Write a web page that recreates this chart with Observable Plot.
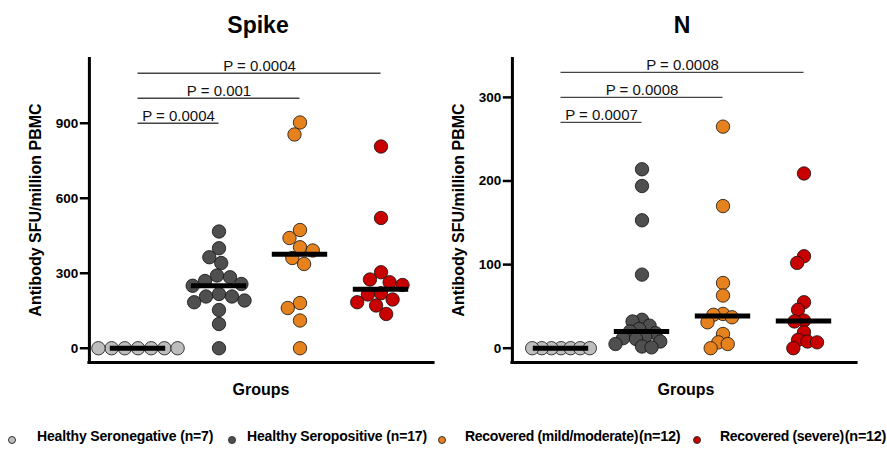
<!DOCTYPE html>
<html>
<head>
<meta charset="utf-8">
<script src="https://cdn.jsdelivr.net/npm/d3@7"></script>
<script src="https://cdn.jsdelivr.net/npm/@observablehq/plot@0.6"></script>
<style>
  body { margin: 0; background: #fff; font-family: "Liberation Sans", Arial, sans-serif; color: #000; }
  #page { position: relative; width: 887px; height: 449px; overflow: hidden; }
  .panel { position: absolute; top: 0; }
  .title { position: absolute; top: 13.5px; width: 400px; text-align: center; font-weight: bold; font-size: 23px; line-height: 23px; }
  .xlab { position: absolute; top: 381.5px; width: 300px; text-align: center; font-weight: bold; font-size: 16px; line-height: 16px; }
  .leg { position: absolute; top: 429.4px; font-weight: bold; font-size: 14px; line-height: 14px; letter-spacing: -0.15px; white-space: nowrap; }
  .leg.tight { letter-spacing: -0.3px; }
  .leg .n { font-size: 14.5px; margin-left: 1px; }
  .sw { position: absolute; top: 435.7px; width: 8px; height: 8px; border-radius: 50%; border: 0.8px solid #333; box-sizing: border-box; }
</style>
</head>
<body>
<div id="page">
  <div class="title" style="left:58px">Spike</div>
  <div class="title" style="left:482px">N</div>
  <div id="chart_spike" class="panel" style="left:0px"></div>
  <div id="chart_n" class="panel" style="left:443px"></div>
  <div class="xlab" style="left:111px">Groups</div>
  <div class="xlab" style="left:536px">Groups</div>
  <div id="legend"></div>
</div>
<script>
const groups = ["Healthy Seronegative", "Healthy Seropositive", "Recovered (mild/moderate)", "Recovered (severe)"];
const groupCounts = [7, 17, 12, 12];
const groupColors = ["#bdbdbd", "#4f4f4f", "#e6821e", "#c80000"];

// Spike, SFU per million PBMC
const spikeSeronegative = [0, 0, 0, 0, 0, 0, 0];
const spikeSeropositive = [467, 400, 364, 341, 291, 284, 269, 257, 250, 217, 207, 207, 191, 184, 153, 97, 0];
const spikeMild = [903, 855, 473, 441, 404, 391, 361, 337, 181, 161, 111, 0];
const spikeSevere = [807, 521, 304, 275, 264, 253, 220, 215, 195, 184, 171, 137];

// N, SFU per million PBMC
const nSeronegative = [0, 0, 0, 0, 0, 0, 0];
const nSeropositive = [214, 194, 153, 88, 34, 32, 27, 23, 20, 18, 14, 12, 11, 8, 5, 2, 1];
const nMild = [265, 170, 78, 63, 41, 40, 37, 31, 17, 7, 5, 0];
const nSevere = [209, 110, 102, 55, 46, 33, 32, 19, 10, 8, 7, 0];

const spikeTicks = [0, 300, 600, 900];
const nTicks = [0, 100, 200, 300];

const spikePLabels = ["P = 0.0004", "P = 0.001", "P = 0.0004"];
const spikePLevels = [900, 1000, 1100];
const nPLabels = ["P = 0.0007", "P = 0.0008", "P = 0.0008"];
const nPLevels = [270, 300, 330];

const yLabel = "Antibody SFU/million PBMC";

function panel({values, ticks, domain, pLabels, pLevels, marginLeft, marginRight, padding}) {
  const rows = groups.flatMap((g, i) => values[i].map(v => ({group: g, value: v})));
  const brackets = pLabels.map((label, i) => ({label, level: pLevels[i], to: i + 1}));
  const pad = 0.1;
  const first = () => groups[0];
  const step = (443 - marginLeft - marginRight) / (groups.length + 2 * pad);
  return Plot.plot({
    width: 443,
    height: 400,
    marginLeft,
    marginRight,
    marginTop: 57,
    marginBottom: 38,
    style: {fontFamily: "Liberation Sans, Arial, sans-serif", fontSize: "13px", color: "#000", background: "transparent"},
    fx: {domain: groups, paddingInner: 0, paddingOuter: pad, axis: null, label: null},
    x: {domain: [0, 1], axis: null},
    y: {domain},
    color: {domain: groups, range: groupColors},
    marks: [
      Plot.dot(rows, Plot.dodgeX({anchor: "middle", padding}, {
        fx: "group", y: "value", fill: "group", r: 6.7, stroke: "#111", strokeWidth: 0.8
      })),
      Plot.tickY(rows, Plot.groupZ({y: "median"}, {
        fx: "group", y: "value", stroke: "#000", strokeWidth: 5, insetLeft: 12.8, insetRight: 12.8
      })),
      Plot.ruleY(brackets, {fx: first, y: "level", x1: 0.5, x2: d => 0.5 + d.to, stroke: "#444", strokeWidth: 1.3}),
      Plot.text(brackets, {fx: first, y: "level", x: d => 0.5 + d.to / 2, text: "label", lineAnchor: "bottom", dy: -2, fontSize: 15, fill: "#111"}),
      Plot.ruleX([-pad], {fx: first, x: d => d, stroke: "#000", strokeWidth: 3}),
      Plot.ruleY([domain[0]], {fx: first, y: d => d, x1: -pad, x2: groups.length + pad + 4 / step, stroke: "#000", strokeWidth: 3, strokeLinecap: "square"}),
      Plot.axisY(ticks, {tickSize: 9, tickPadding: 2, strokeWidth: 2.5, fontWeight: "bold", fontSize: 13.5, dx: -pad * step, label: null}),
      Plot.text([yLabel], {fx: first, text: d => d, frameAnchor: "left", textAnchor: "middle", rotate: -90, dx: -61.5, fontSize: 16, fontWeight: "bold"})
    ]
  });
}

const chart_spike = panel({
  values: [spikeSeronegative, spikeSeropositive, spikeMild, spikeSevere],
  ticks: spikeTicks, domain: [-57, 1163],
  pLabels: spikePLabels, pLevels: spikePLevels,
  marginLeft: 87, marginRight: 13, padding: -0.2
});
d3.select("#chart_spike").append(() => chart_spike);

const chart_n = panel({
  values: [nSeronegative, nSeropositive, nMild, nSevere],
  ticks: nTicks, domain: [-17.1, 347.7],
  pLabels: nPLabels, pLevels: nPLevels,
  marginLeft: 67, marginRight: 33, padding: -3.8
});
d3.select("#chart_n").append(() => chart_n);

// legend
const legendDot = [12, 232, 442, 697];
const legendText = [37, 247, 465, 720];
const legend = d3.select("#legend");
groups.forEach((g, i) => {
  legend.append("div").attr("class", "sw")
    .style("left", (legendDot[i] - 4) + "px")
    .style("background", groupColors[i]);
  const item = legend.append("div").attr("class", i < 2 ? "leg" : "leg tight").style("left", legendText[i] + "px");
  if (i < 2) {
    item.text(`${g} (n=${groupCounts[i]})`);
  } else {
    item.append("span").text(g);
    item.append("span").attr("class", "n").text(`(n=${groupCounts[i]})`);
  }
});
</script>
</body>
</html>
